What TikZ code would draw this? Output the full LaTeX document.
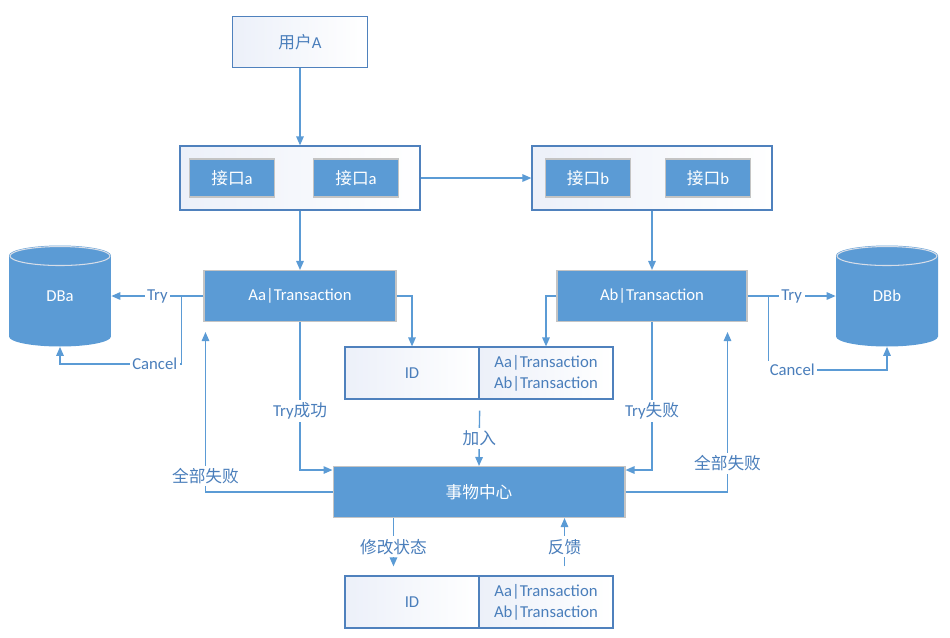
\documentclass[tikz,border=0pt]{standalone}
\usepackage{fontspec}
\setmainfont{Carlito}
\newfontfamily\cjk{Noto Sans CJK SC}
\usetikzlibrary{arrows.meta}
\definecolor{boxblue}{HTML}{5B9BD5}
\definecolor{lineblue}{HTML}{5B9BD5}
\definecolor{edgeblue}{HTML}{4F81BD}
\definecolor{txtblue}{HTML}{4A7EBB}
\definecolor{tintblue}{HTML}{ECF0F9}
\definecolor{greyedge}{HTML}{C4C4C4}
\definecolor{capedge}{HTML}{D6DDE8}
\tikzset{
  every node/.style={font=\fontsize{9.5}{12}\selectfont},
  bluebox/.style={rectangle,fill=boxblue,draw=greyedge,line width=0.6pt,text=white,minimum height=1.02cm},
  smallbox/.style={bluebox,minimum width=1.7cm,minimum height=0.76cm},
  framebox/.style={rectangle,draw=edgeblue,line width=0.7pt,left color=tintblue,right color=white},
  idbox/.style={framebox,minimum width=2.68cm,minimum height=1.04cm,text=txtblue,align=center},
  dbcyl/.style={rectangle,minimum width=2.04cm,minimum height=2.02cm,text=white,
    path picture={
      \fill[boxblue] ([yshift=-0.2cm]path picture bounding box.north west)
        -- ([yshift=0.2cm]path picture bounding box.south west)
        arc[start angle=180,end angle=360,x radius=1.02cm,y radius=0.2cm]
        -- ([yshift=-0.2cm]path picture bounding box.north east)
        arc[start angle=0,end angle=180,x radius=1.02cm,y radius=0.2cm] -- cycle;
      \draw[capedge,fill=boxblue,line width=0.6pt] ([yshift=-0.21cm]path picture bounding box.north)
        ellipse[x radius=1.0cm,y radius=0.19cm];
    }},
  arr/.style={draw=lineblue,line width=0.8pt,-{Triangle[length=1.8mm,width=1.5mm]}},
  lbl/.style={fill=white,text=txtblue,inner sep=1.5pt}
}
\begin{document}
\begin{tikzpicture}[x=0.02cm,y=-0.02cm]
  \useasboundingbox (0,0) rectangle (950,637);
  \node[framebox,minimum width=2.7cm,minimum height=1.02cm,text=txtblue] (userA) at (300,42) {{\cjk 用户}A};
  \node[framebox,minimum width=4.8cm,minimum height=1.28cm] (ifa) at (300,178) {};
  \node[framebox,minimum width=4.8cm,minimum height=1.28cm] (ifb) at (652,178) {};
  \node[smallbox] (ifa1) at (232,178) {{\cjk 接口}a};
  \node[smallbox] (ifa2) at (356,178) {{\cjk 接口}a};
  \node[smallbox] (ifb1) at (588,178) {{\cjk 接口}b};
  \node[smallbox] (ifb2) at (708,178) {{\cjk 接口}b};
  \node[bluebox,minimum width=3.84cm] (Aa) at (300,296) {Aa|Transaction};
  \node[bluebox,minimum width=3.8cm] (Ab) at (652,296) {Ab|Transaction};
  \node[dbcyl] (DBa) at (60,296) {DBa};
  \node[dbcyl] (DBb) at (887,296) {DBb};
  \node[idbox] (idL) at (412,373) {ID};
  \node[idbox] (idR) at (546,373) {Aa|Transaction\\Ab|Transaction};
  \node[bluebox,minimum width=5.84cm] (hub) at (479,492) {\cjk 事物中心};
  \node[idbox] (idL2) at (412,602) {ID};
  \node[idbox] (idR2) at (546,602) {Aa|Transaction\\Ab|Transaction};

  \foreach \from/\to in {userA/ifa,ifa/ifb,ifa/Aa,ifb/Ab}
    \draw[arr] (\from) -- (\to);

  \draw[arr] (Aa.west) -- node[lbl]{Try} (DBa.east);
  \coordinate (cA) at ([xshift=-0.44cm]Aa.west);
  \draw[arr] (cA) |- node[lbl,pos=0.61]{Cancel} ([yshift=-0.34cm]DBa.south) -- (DBa.south);
  \draw[arr] (Ab.east) -- node[lbl]{Try} (DBb.west);
  \coordinate (cB) at ([xshift=0.42cm]Ab.east);
  \draw[arr] (cB) |- node[lbl,pos=0.6]{Cancel} ([yshift=-0.46cm]DBb.south) -- (DBb.south);

  \draw[arr] (Aa.east) -| (idL.north);
  \draw[arr] (Ab.west) -| (idR.north);
  \draw[arr] ([yshift=-0.22cm]idL.south east) -- node[lbl]{\cjk 加入} (hub.north);

  \draw[arr] (Aa.south) |- node[lbl,pos=0.3]{Try{\cjk 成功}} ([yshift=0.44cm]hub.west);
  \draw[arr] (Ab.south) |- node[lbl,pos=0.3]{Try{\cjk 失败}} ([yshift=0.44cm]hub.east);
  \draw[arr] (hub.west) -| node[lbl,pos=0.55]{\cjk 全部失败} ([xshift=0.04cm,yshift=-0.2cm]Aa.south west);
  \draw[arr] (hub.east) -| node[lbl,pos=0.59]{\cjk 全部失败} ([xshift=-0.4cm,yshift=-0.2cm]Ab.south east);

  \coordinate (modS) at ([xshift=1.22cm]hub.south west);
  \coordinate (fbS) at ([xshift=-1.22cm]hub.south east);
  \draw[arr,shorten >=0.18cm] (modS) -- node[lbl]{\cjk 修改状态} (modS |- idL2.north);
  \draw[arr,shorten <=0.18cm] (fbS |- idR2.north) -- node[lbl]{\cjk 反馈} (fbS);
\end{tikzpicture}
\end{document}
